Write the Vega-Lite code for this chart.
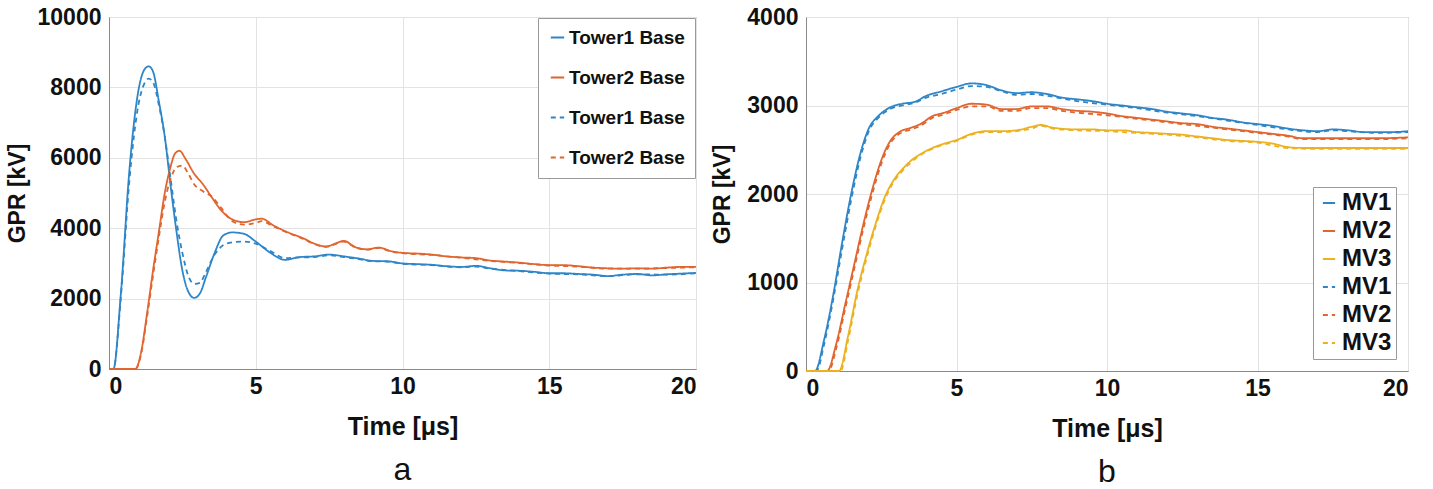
{
"$schema": "https://vega.github.io/schema/vega-lite/v6.json",
"background": "white",
"padding": {"left": 5, "top": 5, "right": 5, "bottom": 2},
"config": {
 "font": "Liberation Sans",
 "view": {"stroke": "#8a8a8a", "strokeWidth": 1},
 "axis": {"labelFont": "Liberation Sans", "labelFontSize": 23, "labelFontWeight": "bold", "labelColor": "#111", "titleFont": "Liberation Sans", "titleFontSize": 23, "titleFontWeight": "bold", "titleColor": "#111", "grid": true, "gridColor": "#e3e3e3", "domainColor": "#8a8a8a", "ticks": false, "labelPadding": 8},
 "axisX": {"titleFontSize": 25, "titlePadding": 16, "labelPadding": 6},
 "concat": {"spacing": 10}
},
"resolve": {"scale": {"color": "independent", "strokeDash": "independent"}, "legend": {"color": "independent", "strokeDash": "independent"}},
"datasets": {
 "a": [
  {"s":"T1","t":0,"v":0},{"s":"T1","t":0.15,"v":0},{"s":"T1","t":0.4,"v":2100},{"s":"T1","t":0.7,"v":5700},{"s":"T1","t":1.0,"v":7900},{"s":"T1","t":1.2,"v":8500},{"s":"T1","t":1.35,"v":8600},{"s":"T1","t":1.5,"v":8450},{"s":"T1","t":1.7,"v":7600},{"s":"T1","t":1.9,"v":6600},{"s":"T1","t":2.1,"v":5200},{"s":"T1","t":2.3,"v":3900},{"s":"T1","t":2.5,"v":2800},{"s":"T1","t":2.7,"v":2200},{"s":"T1","t":2.9,"v":2020},{"s":"T1","t":3.1,"v":2150},{"s":"T1","t":3.3,"v":2600},{"s":"T1","t":3.6,"v":3300},{"s":"T1","t":3.9,"v":3800},{"s":"T1","t":4.2,"v":3880},{"s":"T1","t":4.6,"v":3840},{"s":"T1","t":5.0,"v":3620},{"s":"T1","t":5.5,"v":3300},{"s":"T1","t":6.0,"v":3100},{"s":"T1","t":6.5,"v":3180},{"s":"T1","t":7.0,"v":3200},{"s":"T1","t":7.5,"v":3250},{"s":"T1","t":8.0,"v":3200},{"s":"T1","t":8.5,"v":3140},{"s":"T1","t":9.0,"v":3070},{"s":"T1","t":9.5,"v":3060},{"s":"T1","t":10,"v":3000},{"s":"T1","t":10.5,"v":2980},{"s":"T1","t":11,"v":2960},{"s":"T1","t":11.5,"v":2920},{"s":"T1","t":12,"v":2900},{"s":"T1","t":12.5,"v":2930},{"s":"T1","t":13,"v":2860},{"s":"T1","t":13.5,"v":2800},{"s":"T1","t":14,"v":2790},{"s":"T1","t":14.5,"v":2760},{"s":"T1","t":15,"v":2720},{"s":"T1","t":15.5,"v":2720},{"s":"T1","t":16,"v":2700},{"s":"T1","t":16.5,"v":2680},{"s":"T1","t":17,"v":2640},{"s":"T1","t":17.5,"v":2680},{"s":"T1","t":18,"v":2700},{"s":"T1","t":18.5,"v":2660},{"s":"T1","t":19,"v":2690},{"s":"T1","t":19.5,"v":2710},{"s":"T1","t":20,"v":2730},
  {"s":"T2","t":0,"v":0},{"s":"T2","t":0.9,"v":0},{"s":"T2","t":1.1,"v":500},{"s":"T2","t":1.3,"v":1600},{"s":"T2","t":1.5,"v":2800},{"s":"T2","t":1.7,"v":3900},{"s":"T2","t":1.9,"v":5000},{"s":"T2","t":2.1,"v":5750},{"s":"T2","t":2.25,"v":6120},{"s":"T2","t":2.4,"v":6200},{"s":"T2","t":2.6,"v":5980},{"s":"T2","t":2.9,"v":5550},{"s":"T2","t":3.2,"v":5250},{"s":"T2","t":3.5,"v":4880},{"s":"T2","t":3.8,"v":4530},{"s":"T2","t":4.2,"v":4250},{"s":"T2","t":4.6,"v":4170},{"s":"T2","t":5.0,"v":4250},{"s":"T2","t":5.2,"v":4270},{"s":"T2","t":5.6,"v":4080},{"s":"T2","t":6.1,"v":3880},{"s":"T2","t":6.6,"v":3720},{"s":"T2","t":7.0,"v":3560},{"s":"T2","t":7.4,"v":3480},{"s":"T2","t":7.7,"v":3560},{"s":"T2","t":8.0,"v":3640},{"s":"T2","t":8.4,"v":3460},{"s":"T2","t":8.8,"v":3400},{"s":"T2","t":9.2,"v":3450},{"s":"T2","t":9.6,"v":3350},{"s":"T2","t":10,"v":3300},{"s":"T2","t":10.5,"v":3280},{"s":"T2","t":11,"v":3250},{"s":"T2","t":11.5,"v":3200},{"s":"T2","t":12,"v":3170},{"s":"T2","t":12.5,"v":3150},{"s":"T2","t":13,"v":3080},{"s":"T2","t":13.5,"v":3050},{"s":"T2","t":14,"v":3020},{"s":"T2","t":14.5,"v":2980},{"s":"T2","t":15,"v":2950},{"s":"T2","t":15.5,"v":2950},{"s":"T2","t":16,"v":2920},{"s":"T2","t":16.5,"v":2880},{"s":"T2","t":17,"v":2860},{"s":"T2","t":17.5,"v":2850},{"s":"T2","t":18,"v":2860},{"s":"T2","t":18.5,"v":2850},{"s":"T2","t":19,"v":2880},{"s":"T2","t":19.5,"v":2900},{"s":"T2","t":20,"v":2900},
  {"s":"T1d","t":0,"v":0},{"s":"T1d","t":0.15,"v":0},{"s":"T1d","t":0.4,"v":2000},{"s":"T1d","t":0.7,"v":5400},{"s":"T1d","t":1.0,"v":7500},{"s":"T1d","t":1.2,"v":8100},{"s":"T1d","t":1.35,"v":8250},{"s":"T1d","t":1.5,"v":8150},{"s":"T1d","t":1.7,"v":7500},{"s":"T1d","t":1.9,"v":6600},{"s":"T1d","t":2.1,"v":5400},{"s":"T1d","t":2.3,"v":4200},{"s":"T1d","t":2.5,"v":3300},{"s":"T1d","t":2.7,"v":2650},{"s":"T1d","t":2.9,"v":2420},{"s":"T1d","t":3.1,"v":2450},{"s":"T1d","t":3.3,"v":2750},{"s":"T1d","t":3.6,"v":3250},{"s":"T1d","t":3.9,"v":3520},{"s":"T1d","t":4.2,"v":3600},{"s":"T1d","t":4.6,"v":3620},{"s":"T1d","t":5.0,"v":3560},{"s":"T1d","t":5.5,"v":3350},{"s":"T1d","t":6.0,"v":3150},{"s":"T1d","t":6.5,"v":3170},{"s":"T1d","t":7.0,"v":3180},{"s":"T1d","t":7.5,"v":3230},{"s":"T1d","t":8.0,"v":3180},{"s":"T1d","t":8.5,"v":3120},{"s":"T1d","t":9.0,"v":3060},{"s":"T1d","t":9.5,"v":3050},{"s":"T1d","t":10,"v":2990},{"s":"T1d","t":11,"v":2950},{"s":"T1d","t":12,"v":2890},{"s":"T1d","t":12.5,"v":2910},{"s":"T1d","t":13,"v":2850},{"s":"T1d","t":14,"v":2780},{"s":"T1d","t":15,"v":2710},{"s":"T1d","t":16,"v":2690},{"s":"T1d","t":17,"v":2640},{"s":"T1d","t":18,"v":2690},{"s":"T1d","t":19,"v":2680},{"s":"T1d","t":20,"v":2720},
  {"s":"T2d","t":0,"v":0},{"s":"T2d","t":0.9,"v":0},{"s":"T2d","t":1.1,"v":450},{"s":"T2d","t":1.3,"v":1500},{"s":"T2d","t":1.5,"v":2650},{"s":"T2d","t":1.7,"v":3750},{"s":"T2d","t":1.9,"v":4750},{"s":"T2d","t":2.1,"v":5400},{"s":"T2d","t":2.3,"v":5730},{"s":"T2d","t":2.5,"v":5780},{"s":"T2d","t":2.7,"v":5550},{"s":"T2d","t":2.9,"v":5250},{"s":"T2d","t":3.2,"v":5050},{"s":"T2d","t":3.5,"v":4900},{"s":"T2d","t":3.8,"v":4600},{"s":"T2d","t":4.2,"v":4200},{"s":"T2d","t":4.6,"v":4100},{"s":"T2d","t":5.0,"v":4150},{"s":"T2d","t":5.2,"v":4200},{"s":"T2d","t":5.6,"v":4050},{"s":"T2d","t":6.1,"v":3870},{"s":"T2d","t":6.6,"v":3700},{"s":"T2d","t":7.0,"v":3550},{"s":"T2d","t":7.4,"v":3470},{"s":"T2d","t":8.0,"v":3620},{"s":"T2d","t":8.4,"v":3450},{"s":"T2d","t":8.8,"v":3390},{"s":"T2d","t":9.2,"v":3440},{"s":"T2d","t":9.6,"v":3340},{"s":"T2d","t":10,"v":3290},{"s":"T2d","t":11,"v":3240},{"s":"T2d","t":12,"v":3160},{"s":"T2d","t":13,"v":3070},{"s":"T2d","t":14,"v":3010},{"s":"T2d","t":15,"v":2940},{"s":"T2d","t":16,"v":2910},{"s":"T2d","t":17,"v":2850},{"s":"T2d","t":18,"v":2850},{"s":"T2d","t":19,"v":2870},{"s":"T2d","t":20,"v":2890}
 ],
 "b": [
  {"s":"MV1","t":0,"v":0},{"s":"MV1","t":0.3,"v":0},{"s":"MV1","t":0.6,"v":350},{"s":"MV1","t":0.9,"v":850},{"s":"MV1","t":1.2,"v":1450},{"s":"MV1","t":1.5,"v":2000},{"s":"MV1","t":1.8,"v":2450},{"s":"MV1","t":2.1,"v":2750},{"s":"MV1","t":2.4,"v":2880},{"s":"MV1","t":2.8,"v":2980},{"s":"MV1","t":3.2,"v":3020},{"s":"MV1","t":3.6,"v":3040},{"s":"MV1","t":4.0,"v":3110},{"s":"MV1","t":4.5,"v":3160},{"s":"MV1","t":5.0,"v":3210},{"s":"MV1","t":5.5,"v":3250},{"s":"MV1","t":6.0,"v":3230},{"s":"MV1","t":6.5,"v":3170},{"s":"MV1","t":7.0,"v":3140},{"s":"MV1","t":7.5,"v":3150},{"s":"MV1","t":8.0,"v":3130},{"s":"MV1","t":8.5,"v":3090},{"s":"MV1","t":9,"v":3070},{"s":"MV1","t":9.5,"v":3050},{"s":"MV1","t":10,"v":3020},{"s":"MV1","t":10.5,"v":3000},{"s":"MV1","t":11,"v":2980},{"s":"MV1","t":11.5,"v":2960},{"s":"MV1","t":12,"v":2930},{"s":"MV1","t":12.5,"v":2910},{"s":"MV1","t":13,"v":2890},{"s":"MV1","t":13.5,"v":2860},{"s":"MV1","t":14,"v":2840},{"s":"MV1","t":14.5,"v":2810},{"s":"MV1","t":15,"v":2790},{"s":"MV1","t":15.5,"v":2770},{"s":"MV1","t":16,"v":2740},{"s":"MV1","t":16.5,"v":2720},{"s":"MV1","t":17,"v":2710},{"s":"MV1","t":17.5,"v":2730},{"s":"MV1","t":18,"v":2720},{"s":"MV1","t":18.5,"v":2700},{"s":"MV1","t":19,"v":2700},{"s":"MV1","t":19.5,"v":2700},{"s":"MV1","t":20,"v":2710},
  {"s":"MV2","t":0,"v":0},{"s":"MV2","t":0.7,"v":0},{"s":"MV2","t":1.0,"v":300},{"s":"MV2","t":1.3,"v":750},{"s":"MV2","t":1.6,"v":1200},{"s":"MV2","t":1.9,"v":1650},{"s":"MV2","t":2.2,"v":2050},{"s":"MV2","t":2.5,"v":2380},{"s":"MV2","t":2.8,"v":2600},{"s":"MV2","t":3.1,"v":2700},{"s":"MV2","t":3.5,"v":2750},{"s":"MV2","t":3.8,"v":2790},{"s":"MV2","t":4.2,"v":2880},{"s":"MV2","t":4.6,"v":2920},{"s":"MV2","t":5.0,"v":2970},{"s":"MV2","t":5.5,"v":3020},{"s":"MV2","t":6.0,"v":3010},{"s":"MV2","t":6.5,"v":2960},{"s":"MV2","t":7.0,"v":2960},{"s":"MV2","t":7.5,"v":2990},{"s":"MV2","t":8.0,"v":2990},{"s":"MV2","t":8.5,"v":2960},{"s":"MV2","t":9,"v":2940},{"s":"MV2","t":9.5,"v":2930},{"s":"MV2","t":10,"v":2910},{"s":"MV2","t":10.5,"v":2880},{"s":"MV2","t":11,"v":2860},{"s":"MV2","t":11.5,"v":2840},{"s":"MV2","t":12,"v":2820},{"s":"MV2","t":12.5,"v":2800},{"s":"MV2","t":13,"v":2790},{"s":"MV2","t":13.5,"v":2760},{"s":"MV2","t":14,"v":2740},{"s":"MV2","t":14.5,"v":2720},{"s":"MV2","t":15,"v":2700},{"s":"MV2","t":15.5,"v":2680},{"s":"MV2","t":16,"v":2660},{"s":"MV2","t":16.5,"v":2630},{"s":"MV2","t":17,"v":2630},{"s":"MV2","t":18,"v":2630},{"s":"MV2","t":19,"v":2630},{"s":"MV2","t":20,"v":2640},
  {"s":"MV3","t":0,"v":0},{"s":"MV3","t":1.1,"v":0},{"s":"MV3","t":1.4,"v":400},{"s":"MV3","t":1.7,"v":900},{"s":"MV3","t":2.0,"v":1300},{"s":"MV3","t":2.3,"v":1650},{"s":"MV3","t":2.6,"v":1950},{"s":"MV3","t":2.9,"v":2150},{"s":"MV3","t":3.2,"v":2280},{"s":"MV3","t":3.5,"v":2380},{"s":"MV3","t":3.8,"v":2450},{"s":"MV3","t":4.2,"v":2520},{"s":"MV3","t":4.6,"v":2570},{"s":"MV3","t":5.0,"v":2610},{"s":"MV3","t":5.5,"v":2680},{"s":"MV3","t":6.0,"v":2710},{"s":"MV3","t":6.5,"v":2710},{"s":"MV3","t":7.0,"v":2720},{"s":"MV3","t":7.5,"v":2760},{"s":"MV3","t":7.8,"v":2780},{"s":"MV3","t":8.2,"v":2750},{"s":"MV3","t":9,"v":2730},{"s":"MV3","t":9.5,"v":2730},{"s":"MV3","t":10,"v":2720},{"s":"MV3","t":10.5,"v":2720},{"s":"MV3","t":11,"v":2700},{"s":"MV3","t":11.5,"v":2690},{"s":"MV3","t":12,"v":2680},{"s":"MV3","t":12.5,"v":2670},{"s":"MV3","t":13,"v":2650},{"s":"MV3","t":13.5,"v":2630},{"s":"MV3","t":14,"v":2610},{"s":"MV3","t":14.5,"v":2600},{"s":"MV3","t":15,"v":2590},{"s":"MV3","t":15.5,"v":2570},{"s":"MV3","t":16,"v":2530},{"s":"MV3","t":16.5,"v":2520},{"s":"MV3","t":17,"v":2520},{"s":"MV3","t":18,"v":2520},{"s":"MV3","t":19,"v":2520},{"s":"MV3","t":20,"v":2520},
  {"s":"MV1d","t":0,"v":0},{"s":"MV1d","t":0.35,"v":0},{"s":"MV1d","t":0.6,"v":300},{"s":"MV1d","t":0.9,"v":800},{"s":"MV1d","t":1.2,"v":1380},{"s":"MV1d","t":1.5,"v":1930},{"s":"MV1d","t":1.8,"v":2400},{"s":"MV1d","t":2.1,"v":2720},{"s":"MV1d","t":2.4,"v":2860},{"s":"MV1d","t":2.8,"v":2960},{"s":"MV1d","t":3.2,"v":3000},{"s":"MV1d","t":3.6,"v":3030},{"s":"MV1d","t":4.0,"v":3090},{"s":"MV1d","t":4.5,"v":3130},{"s":"MV1d","t":5.0,"v":3180},{"s":"MV1d","t":5.5,"v":3220},{"s":"MV1d","t":6.0,"v":3210},{"s":"MV1d","t":6.5,"v":3160},{"s":"MV1d","t":7.0,"v":3120},{"s":"MV1d","t":7.5,"v":3130},{"s":"MV1d","t":8.0,"v":3110},{"s":"MV1d","t":8.5,"v":3080},{"s":"MV1d","t":9,"v":3050},{"s":"MV1d","t":10,"v":3010},{"s":"MV1d","t":11,"v":2970},{"s":"MV1d","t":12,"v":2920},{"s":"MV1d","t":13,"v":2880},{"s":"MV1d","t":14,"v":2830},{"s":"MV1d","t":15,"v":2780},{"s":"MV1d","t":16,"v":2730},{"s":"MV1d","t":17,"v":2700},{"s":"MV1d","t":17.5,"v":2720},{"s":"MV1d","t":18,"v":2710},{"s":"MV1d","t":19,"v":2690},{"s":"MV1d","t":20,"v":2700},
  {"s":"MV2d","t":0,"v":0},{"s":"MV2d","t":0.75,"v":0},{"s":"MV2d","t":1.0,"v":250},{"s":"MV2d","t":1.3,"v":700},{"s":"MV2d","t":1.6,"v":1150},{"s":"MV2d","t":1.9,"v":1600},{"s":"MV2d","t":2.2,"v":2000},{"s":"MV2d","t":2.5,"v":2340},{"s":"MV2d","t":2.8,"v":2570},{"s":"MV2d","t":3.1,"v":2680},{"s":"MV2d","t":3.5,"v":2730},{"s":"MV2d","t":3.8,"v":2770},{"s":"MV2d","t":4.2,"v":2860},{"s":"MV2d","t":4.6,"v":2900},{"s":"MV2d","t":5.0,"v":2950},{"s":"MV2d","t":5.5,"v":2990},{"s":"MV2d","t":6.0,"v":2990},{"s":"MV2d","t":6.5,"v":2940},{"s":"MV2d","t":7.0,"v":2940},{"s":"MV2d","t":7.5,"v":2970},{"s":"MV2d","t":8.0,"v":2970},{"s":"MV2d","t":8.5,"v":2940},{"s":"MV2d","t":9,"v":2920},{"s":"MV2d","t":10,"v":2890},{"s":"MV2d","t":11,"v":2850},{"s":"MV2d","t":12,"v":2810},{"s":"MV2d","t":13,"v":2770},{"s":"MV2d","t":14,"v":2730},{"s":"MV2d","t":15,"v":2690},{"s":"MV2d","t":16,"v":2650},{"s":"MV2d","t":16.5,"v":2620},{"s":"MV2d","t":17,"v":2620},{"s":"MV2d","t":18,"v":2620},{"s":"MV2d","t":19,"v":2620},{"s":"MV2d","t":20,"v":2630},
  {"s":"MV3d","t":0,"v":0},{"s":"MV3d","t":1.15,"v":0},{"s":"MV3d","t":1.4,"v":350},{"s":"MV3d","t":1.7,"v":850},{"s":"MV3d","t":2.0,"v":1260},{"s":"MV3d","t":2.3,"v":1620},{"s":"MV3d","t":2.6,"v":1920},{"s":"MV3d","t":2.9,"v":2130},{"s":"MV3d","t":3.2,"v":2260},{"s":"MV3d","t":3.5,"v":2360},{"s":"MV3d","t":3.8,"v":2440},{"s":"MV3d","t":4.2,"v":2510},{"s":"MV3d","t":4.6,"v":2560},{"s":"MV3d","t":5.0,"v":2600},{"s":"MV3d","t":5.5,"v":2670},{"s":"MV3d","t":6.0,"v":2700},{"s":"MV3d","t":6.5,"v":2700},{"s":"MV3d","t":7.0,"v":2710},{"s":"MV3d","t":7.5,"v":2740},{"s":"MV3d","t":7.8,"v":2770},{"s":"MV3d","t":8.2,"v":2740},{"s":"MV3d","t":9,"v":2720},{"s":"MV3d","t":10,"v":2710},{"s":"MV3d","t":11,"v":2690},{"s":"MV3d","t":12,"v":2670},{"s":"MV3d","t":13,"v":2640},{"s":"MV3d","t":14,"v":2600},{"s":"MV3d","t":15,"v":2580},{"s":"MV3d","t":16,"v":2520},{"s":"MV3d","t":17,"v":2510},{"s":"MV3d","t":18,"v":2510},{"s":"MV3d","t":19,"v":2510},{"s":"MV3d","t":20,"v":2510}
 ]
},
"hconcat": [
 {
  "width": 587, "height": 352,
  "title": {"text": "a", "orient": "bottom", "fontSize": 32, "fontWeight": "normal", "font": "Liberation Sans", "color": "#111", "offset": 16},
  "data": {"name": "a"},
  "mark": {"type": "line", "strokeWidth": 1.8, "interpolate": "monotone"},
  "encoding": {
   "x": {"field": "t", "type": "quantitative", "scale": {"domain": [0, 20], "nice": false}, "axis": {"values": [0, 5, 10, 15, 20], "title": "Time [μs]"}},
   "y": {"field": "v", "type": "quantitative", "scale": {"domain": [0, 10000], "nice": false}, "axis": {"values": [0, 2000, 4000, 6000, 8000, 10000], "format": "d", "title": "GPR [kV]", "titlePadding": 8}},
   "color": {"field": "s", "type": "nominal", "sort": ["T1", "T2", "T1d", "T2d"], "scale": {"domain": ["T1", "T2", "T1d", "T2d"], "range": ["#2E86C8", "#E0652E", "#2E86C8", "#E0652E"]},
    "legend": {"orient": "top-right", "offset": 1, "title": null, "symbolType": "stroke", "symbolSize": 180, "symbolStrokeWidth": 2, "labelOffset": 2, "labelFont": "Liberation Sans", "labelFontSize": 19, "labelFontWeight": "bold", "labelColor": "#111", "rowPadding": 20, "padding": 10, "strokeColor": "#9a9a9a", "fillColor": "white", "labelExpr": "indexof(datum.label, '1') >= 0 ? 'Tower1 Base' : 'Tower2 Base'"}},
   "strokeDash": {"field": "s", "type": "nominal", "sort": ["T1", "T2", "T1d", "T2d"], "scale": {"domain": ["T1", "T2", "T1d", "T2d"], "range": [[1, 0], [1, 0], [5, 4], [5, 4]]},
    "legend": {"orient": "top-right", "offset": 1, "title": null, "symbolType": "stroke", "symbolSize": 180, "symbolStrokeWidth": 2, "labelOffset": 2, "labelFont": "Liberation Sans", "labelFontSize": 19, "labelFontWeight": "bold", "labelColor": "#111", "rowPadding": 20, "padding": 10, "strokeColor": "#9a9a9a", "fillColor": "white", "labelExpr": "indexof(datum.label, '1') >= 0 ? 'Tower1 Base' : 'Tower2 Base'"}}
  }
 },
 {
  "width": 602, "height": 354,
  "title": {"text": "b", "orient": "bottom", "fontSize": 32, "fontWeight": "normal", "font": "Liberation Sans", "color": "#111", "offset": 16},
  "data": {"name": "b"},
  "mark": {"type": "line", "strokeWidth": 1.8, "interpolate": "monotone"},
  "encoding": {
   "x": {"field": "t", "type": "quantitative", "scale": {"domain": [0, 20], "nice": false}, "axis": {"values": [0, 5, 10, 15, 20], "title": "Time [μs]"}},
   "y": {"field": "v", "type": "quantitative", "scale": {"domain": [0, 4000], "nice": false}, "axis": {"values": [0, 1000, 2000, 3000, 4000], "format": "d", "title": "GPR [kV]", "titlePadding": 12}},
   "color": {"field": "s", "type": "nominal", "sort": ["MV1", "MV2", "MV3", "MV1d", "MV2d", "MV3d"], "scale": {"domain": ["MV1", "MV2", "MV3", "MV1d", "MV2d", "MV3d"], "range": ["#2E86C8", "#E0652E", "#EDB120", "#2E86C8", "#E0652E", "#EDB120"]},
    "legend": {"orient": "bottom-right", "offset": 12, "title": null, "symbolType": "stroke", "symbolSize": 150, "symbolStrokeWidth": 2, "labelOffset": 1, "labelFont": "Liberation Sans", "labelFontSize": 24, "labelFontWeight": "bold", "labelColor": "#111", "rowPadding": 4, "padding": 4, "strokeColor": "#9a9a9a", "fillColor": "white", "labelExpr": "substring(datum.label, 0, 3)"}},
   "strokeDash": {"field": "s", "type": "nominal", "sort": ["MV1", "MV2", "MV3", "MV1d", "MV2d", "MV3d"], "scale": {"domain": ["MV1", "MV2", "MV3", "MV1d", "MV2d", "MV3d"], "range": [[1, 0], [1, 0], [1, 0], [5, 4], [5, 4], [5, 4]]},
    "legend": {"orient": "bottom-right", "offset": 12, "title": null, "symbolType": "stroke", "symbolSize": 150, "symbolStrokeWidth": 2, "labelOffset": 1, "labelFont": "Liberation Sans", "labelFontSize": 24, "labelFontWeight": "bold", "labelColor": "#111", "rowPadding": 4, "padding": 4, "strokeColor": "#9a9a9a", "fillColor": "white", "labelExpr": "substring(datum.label, 0, 3)"}}
  }
 }
]
}
